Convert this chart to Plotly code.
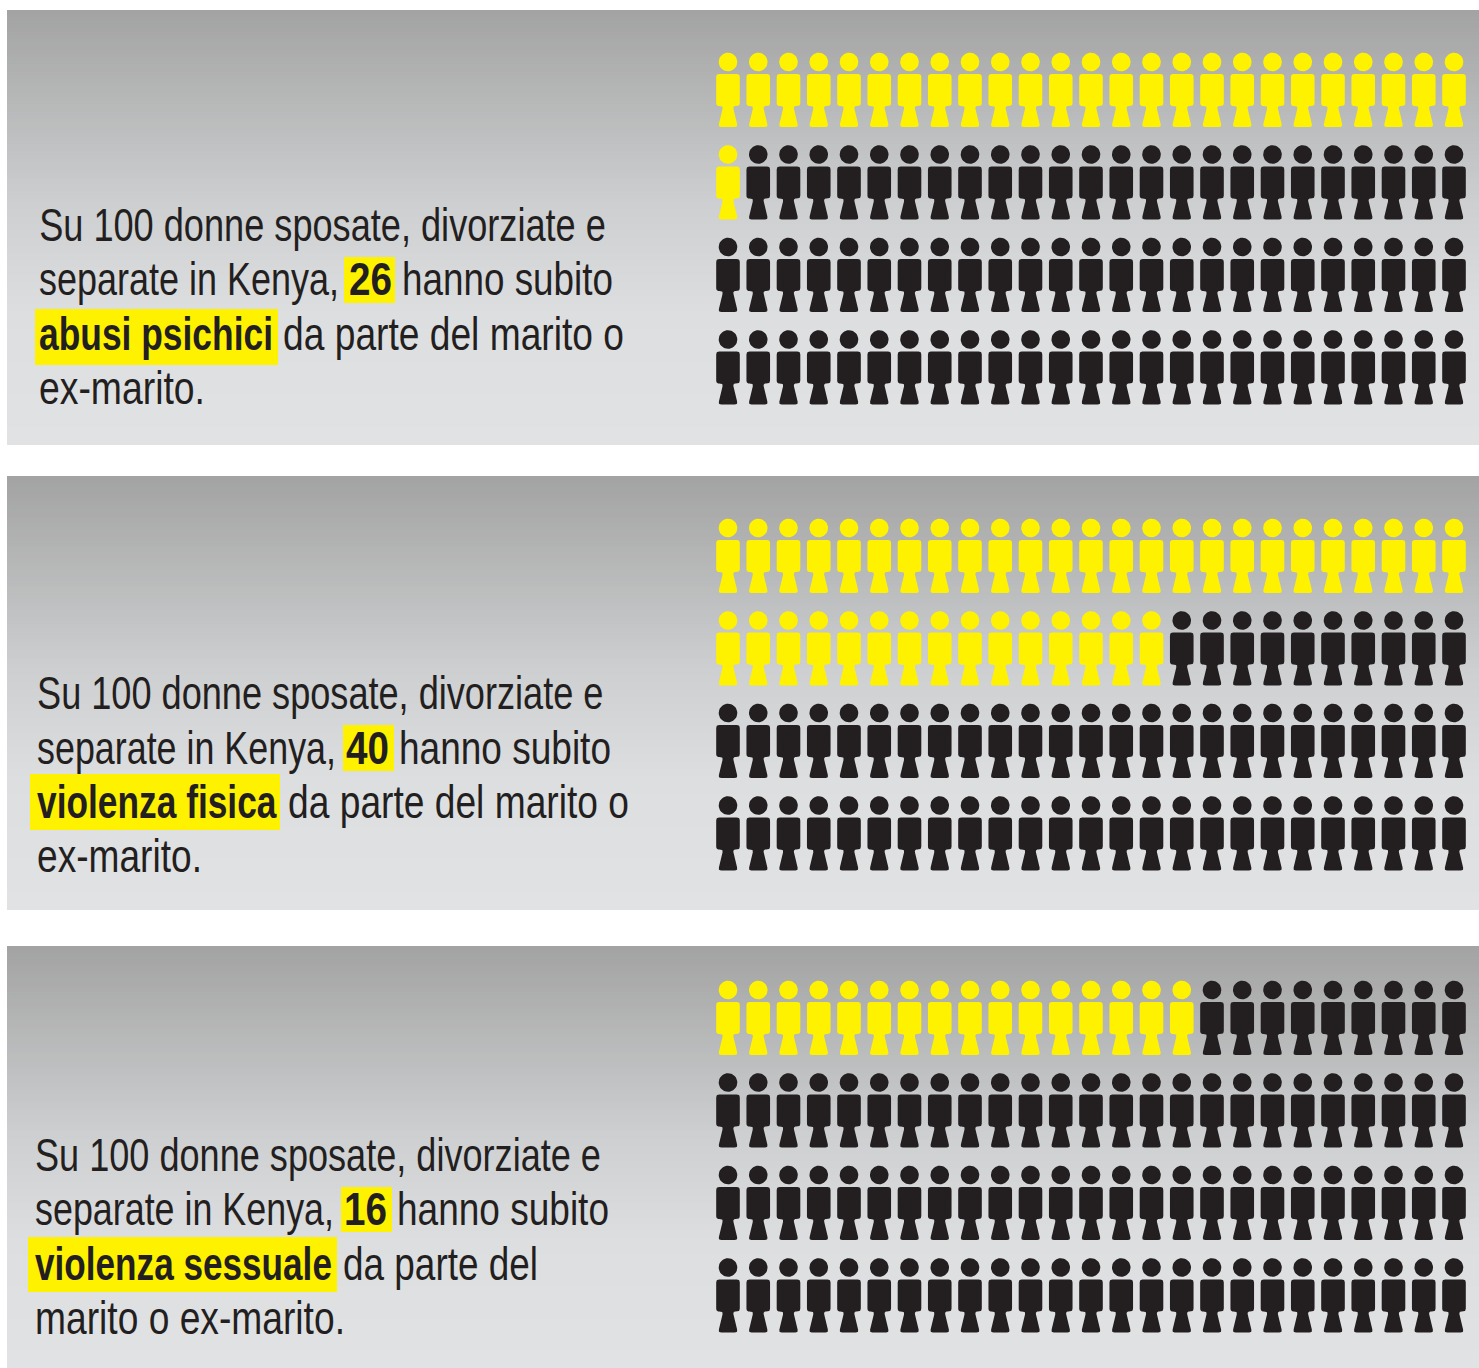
import json
import math
import plotly.graph_objects as go

# ---- data ----
panel_names = ["abusi psichici", "violenza fisica", "violenza sessuale"]
affected = [26, 40, 16]
total = [100, 100, 100]
per_row = 25

panel_tops = [10, 476, 946]
panel_bottoms = [445, 910, 1368]
first_head_y = [62, 528, 990]
line_y = [[225, 279, 334, 388], [693, 748, 802, 856], [1155, 1209, 1264, 1318]]

line1 = "Su 100 donne sposate, divorziate e"
line2_a = "separate in Kenya,"
line2_c = "hanno subito"
term_after = ["da parte del marito o", "da parte del marito o", "da parte del"]
line4 = ["ex-marito.", "ex-marito.", "marito o ex-marito."]

# left / right edge of each text run, per panel
line1_span = [(37, 604), (34.5, 601), (33, 599)]
line2a_span = [(37, 337), (35, 334), (33, 332)]
number_span = [(347, 390), (344, 387), (342, 385)]
line2c_span = [(400, 611), (397, 609), (395, 607)]
term_span = [(37, 271), (35, 275), (33, 330)]
after_span = [(281, 622), (286, 627), (341, 536)]
line4_span = [(37, 203), (35, 200), (33, 343)]

number_box = [(344, 395, 257, 303), (343, 394, 725, 771), (341, 392, 1187, 1232)]
term_box = [(35, 278, 309, 365), (30, 280, 774, 830), (28, 337, 1237, 1292)]

YELLOW = "#fff200"
DARK = "#231f20"
FONT = "Liberation Sans"
SIZE = 45.5
X0, DX, DY = 728, 30.25, 92.5

gradient_stops = [[0, "#a3a3a3"], [0.2, "#b6b7b7"], [0.45, "#cdcfd1"], [0.7, "#dddee0"], [1, "#e1e2e4"]]


def rounded(points, r):
    out = []
    n = len(points)
    for i, (x, y) in enumerate(points):
        px, py = points[i - 1]
        nx, ny = points[(i + 1) % n]
        d1 = math.hypot(px - x, py - y)
        d2 = math.hypot(nx - x, ny - y)
        rr = min(r, d1 / 2, d2 / 2)
        a = (x + (px - x) * rr / d1, y + (py - y) * rr / d1)
        b = (x + (nx - x) * rr / d2, y + (ny - y) * rr / d2)
        for k in range(6):
            t = k / 5
            out.append(((1 - t) ** 2 * a[0] + 2 * t * (1 - t) * x + t * t * b[0],
                        (1 - t) ** 2 * a[1] + 2 * t * (1 - t) * y + t * t * b[1]))
    return out


head = [(9.3 * math.cos(2 * math.pi * k / 36), 9.3 * math.sin(2 * math.pi * k / 36)) for k in range(36)]
body = rounded([(-11.8, 12), (11.8, 12), (11.8, 44), (4.8, 44), (9.8, 65), (-9.8, 65), (-4.8, 44), (-11.8, 44)], 3)


def append_icon(xs, ys, cx, cy):
    for shape in (head, body):
        xs += [cx + p[0] for p in shape] + [cx + shape[0][0], None]
        ys += [cy + p[1] for p in shape] + [cy + shape[0][1], None]


fig = go.Figure()

# panel backgrounds
for top, bottom in zip(panel_tops, panel_bottoms):
    n = 120
    h = (bottom - top) / n
    fig.add_trace(go.Heatmap(
        x=[7, 1479], y=[top + h * i for i in range(n + 1)],
        z=[[i / (n - 1)] for i in range(n)],
        colorscale=gradient_stops, zmin=0, zmax=1, showscale=False, hoverinfo="skip"))

shapes = []
annotations = []
run_widths = []


def add_text(span, y, text, bold=False):
    annotations.append(dict(
        x=span[0], y=y, xref="x", yref="y", xanchor="left", yanchor="middle", showarrow=False,
        text=f"<b>{text}</b>" if bold else text,
        font=dict(family=FONT, size=SIZE, color=DARK)))
    run_widths.append(span[1] - span[0])


for p, name in enumerate(panel_names):
    xs_y, ys_y, xs_d, ys_d = [], [], [], []
    for i in range(total[p]):
        row, col = divmod(i, per_row)
        cx, cy = X0 + col * DX, first_head_y[p] + row * DY
        if i < affected[p]:
            append_icon(xs_y, ys_y, cx, cy)
        else:
            append_icon(xs_d, ys_d, cx, cy)
    for xs, ys, col, label in ((xs_y, ys_y, YELLOW, name), (xs_d, ys_d, DARK, "altre")):
        fig.add_trace(go.Scatter(x=xs, y=ys, mode="lines", fill="toself", fillcolor=col,
                                 line=dict(width=0, color=col), hoverinfo="skip", name=label))
    for box in (number_box[p], term_box[p]):
        shapes.append(dict(type="rect", xref="x", yref="y", x0=box[0], x1=box[1], y0=box[2], y1=box[3],
                           fillcolor=YELLOW, line=dict(width=0), layer="above"))
    ly = line_y[p]
    add_text(line1_span[p], ly[0], line1)
    add_text(line2a_span[p], ly[1], line2_a)
    add_text(number_span[p], ly[1], str(affected[p]), bold=True)
    add_text(line2c_span[p], ly[1], line2_c)
    add_text(term_span[p], ly[2], name, bold=True)
    add_text(after_span[p], ly[2], term_after[p])
    add_text(line4_span[p], ly[3], line4[p])

fig.update_layout(
    width=1479, height=1368, margin=dict(l=0, r=0, t=0, b=0),
    paper_bgcolor="white", plot_bgcolor="white", showlegend=False,
    xaxis=dict(range=[0, 1479], visible=False, fixedrange=True),
    yaxis=dict(range=[1368, 0], visible=False, fixedrange=True),
    shapes=shapes, annotations=annotations)

# the reference type is condensed: squeeze each text run horizontally to its measured width
post = """
document.body.style.margin = '0';
document.body.style.overflow = 'hidden';
var widths = %s;
document.querySelectorAll('.annotation-text').forEach(function (t, i) {
  var b = t.getBBox();
  var s = widths[i] / b.width;
  t.setAttribute('transform', 'translate(' + b.x + ',0) scale(' + s + ',1) translate(' + (-b.x) + ',0)');
});
""" % json.dumps(run_widths)

fig.write_html("out.html", config={"displayModeBar": False}, post_script=post)
